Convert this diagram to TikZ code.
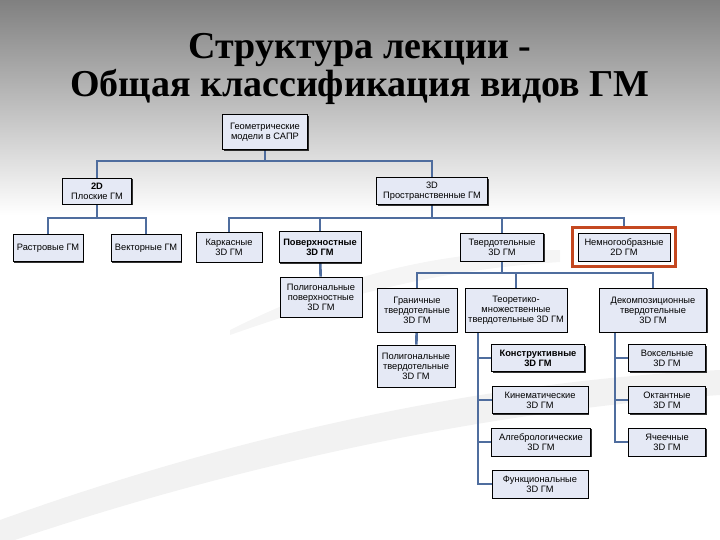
\documentclass[tikz,border=0pt]{standalone}
\usepackage{fontspec}
\setmainfont{Liberation Serif}
\newfontfamily\boxfont{Liberation Sans}
\usetikzlibrary{shadows, fit, backgrounds, positioning}
\definecolor{linkblue}{RGB}{79,109,158}
\definecolor{boxfill}{RGB}{229,233,245}
\definecolor{framered}{RGB}{196,72,32}
\definecolor{topgray}{RGB}{128,128,128}

\begin{document}
\begin{tikzpicture}[
    x=1pt, y=-1pt,
    box/.style={draw, line width=0.8pt, rectangle, minimum height=27pt, inner sep=2pt, align=center, fill=boxfill, font=\boxfont\fontsize{9.3}{10}\selectfont, drop shadow={shadow xshift=1.2pt, shadow yshift=-1.2pt, opacity=0.8, fill=black}},
    link/.style={draw=linkblue, line width=2.6pt},
    title/.style={anchor=base, font=\bfseries\fontsize{38}{38}\selectfont, text=black}
]
    \useasboundingbox (0,0) rectangle (720,540);

    % ================= TITLE =================
    \node[title] (title1) at (360,59) {Структура лекции -};
    \node[title] (title2) at (360,97) {Общая классификация видов ГМ};

    % ================= TOP LEVELS =================
    \node[box, minimum width=85pt, minimum height=35pt] (root) at (265,132) {Геометрические\\модели в САПР};
    \node[box, minimum width=69pt, minimum height=26pt] (flat) at (97,191) {\bfseries 2D\\Плоские ГМ};
    \node[box, minimum width=111pt] (space) at (432,191) {3D\\Пространственные ГМ};

    % ================= 2D MODELS =================
    \node[box, minimum width=70pt] (raster) at (48,248) {Растровые ГМ};
    \node[box, minimum width=70pt] (vector) at (146,248) {Векторные ГМ};

    % ================= 3D MODELS =================
    \node[box, minimum width=66pt, minimum height=30pt] (wire) at (229,247) {Каркасные\\3D ГМ};
    \node[box, minimum width=82pt, minimum height=31pt, font=\boxfont\bfseries\fontsize{9.3}{10}\selectfont] (surf) at (320,247) {Поверхностные\\3D ГМ};
    \node[box, minimum width=83pt, minimum height=28pt] (solid) at (502,247) {Твердотельные\\3D ГМ};
    \node[box, minimum width=92pt, minimum height=28pt] (nonman) at (624,247) {Немногообразные\\2D ГМ};
    \node[draw=framered, line width=3.5pt, fit=(nonman), inner sep=5pt] (nonmanframe) {};

    \node[box, minimum width=82pt, minimum height=40pt] (polysurf) at (321,297) {Полигональные\\поверхностные\\3D ГМ};

    % ================= SOLID MODELS =================
    \node[box, minimum width=80pt, minimum height=44pt] (bound) at (417,310) {Граничные\\твердотельные\\3D ГМ};
    \node[box, minimum width=102pt, minimum height=44pt] (settheor) at (516,310) {Теоретико-\\множественные\\твердотельные 3D ГМ};
    \node[box, minimum width=107pt, minimum height=44pt] (decomp) at (653,310) {Декомпозиционные\\твердотельные\\3D ГМ};
    \node[box, minimum width=78pt, minimum height=42pt] (polysolid) at (416,366) {Полигональные\\твердотельные\\3D ГМ};

    \node[box, minimum width=93pt, font=\boxfont\bfseries\fontsize{9.3}{10}\selectfont] (constr) at (538,358) {Конструктивные\\3D ГМ};
    \node[box, minimum width=96pt] (kinem) at (540,400) {Кинематические\\3D ГМ};
    \node[box, minimum width=99pt, minimum height=28pt] (algeb) at (541,442) {Алгебрологические\\3D ГМ};
    \node[box, minimum width=96pt, minimum height=28pt] (func) at (540,484) {Функциональные\\3D ГМ};

    \node[box, minimum width=77pt] (voxel) at (667,358) {Воксельные\\3D ГМ};
    \node[box, minimum width=77pt] (octant) at (667,400) {Октантные\\3D ГМ};
    \node[box, minimum width=77pt, minimum height=28pt] (cell) at (667,442) {Ячеечные\\3D ГМ};

    % ================= BUS POINTS =================
    \coordinate (busroot) at (265,161);
    \coordinate (busflat) at (97,218);
    \coordinate (busspace) at (432,218);
    \coordinate (bussolid) at (502,273);
    \coordinate (tmtop) at (478,332);
    \coordinate (dctop) at (615,332);

    \begin{scope}[on background layer]
    % background
    \fill[white] (0,0) rectangle (720,540);
    \shade[top color=topgray, bottom color=white] (0,0) rectangle (720,215);
    \fill[black, opacity=0.05] (0,520) .. controls (250,430) and (500,380) .. (720,370) -- (720,395) .. controls (500,410) and (250,460) .. (0,545) -- cycle;
    \fill[black, opacity=0.04] (230,330) .. controls (330,280) and (430,250) .. (560,250) -- (560,262) .. controls (430,270) and (330,300) .. (230,335) -- cycle;

    % ================= CONNECTIONS =================
    \draw[link] (root) -- (busroot) -| (flat);
    \draw[link] (busroot) -| (space);

    \draw[link] (flat) -- (busflat) -| (raster);
    \draw[link] (busflat) -| (vector);

    \draw[link] (space) -- (busspace) -| (wire);
    \draw[link] (busspace) -| (surf);
    \draw[link] (busspace) -| (solid);
    \draw[link] (busspace) -| (nonmanframe);

    \draw[link] (surf) -- (polysurf);

    \draw[link] (solid) -- (bussolid) -| (bound);
    \draw[link] (bussolid) -| (settheor);
    \draw[link] (bussolid) -| (decomp);
    \draw[link] (bound) -- (polysolid);

    \draw[link] (tmtop) |- (constr);
    \draw[link] (tmtop) |- (kinem);
    \draw[link] (tmtop) |- (algeb);
    \draw[link] (tmtop) |- (func);

    \draw[link] (dctop) |- (voxel);
    \draw[link] (dctop) |- (octant);
    \draw[link] (dctop) |- (cell);
    \end{scope}

\end{tikzpicture}
\end{document}
